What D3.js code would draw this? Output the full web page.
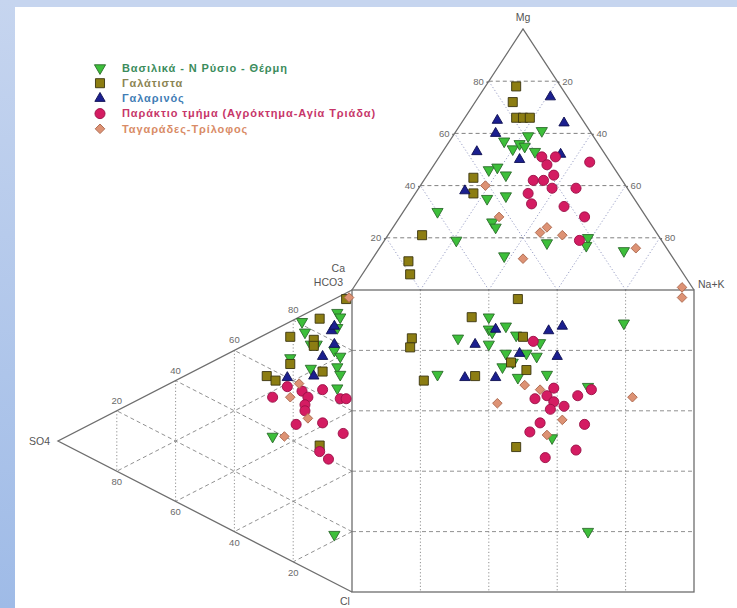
<!DOCTYPE html>
<html>
<head>
<meta charset="utf-8">
<script src="https://cdn.jsdelivr.net/npm/d3@7"></script>
<style>
  html, body { margin: 0; padding: 0; background: #ffffff; }
  svg { display: block; }
  text { font-family: "Liberation Sans", Arial, sans-serif; }
</style>
</head>
<body>
<script>
// Sample groups (legend order)
const groups = [
  "Βασιλικά - Ν Ρύσιο - Θέρμη",
  "Γαλάτιστα",
  "Γαλαρινός",
  "Παράκτιο τμήμα (Αγρόκτημα-Αγία Τριάδα)",
  "Ταγαράδες-Τρίλοφος"
];

// Cation triangle: [group, Mg %, Na+K %]  (Ca = remainder)
const cations = [
  [0,61,25],[0,59,22],[0,57,16],[0,54,20],[0,56,21],[0,55,23],[0,53,27],[0,46,17],[0,47,19],[0,44,23],
  [0,35,22],[0,36,27],[0,30,10],[0,26,28],[0,24,30],[0,19,21],[0,18,48],[0,20,59],[0,17,60],[0,13,38],[0,15,72],
  [1,78,9],[1,72,11],[1,66,15],[1,66,17],[1,66,19],[1,43,14],[1,37,17],[1,21,10],[1,11,11],[1,6,14],
  [2,74,21],[2,64,30],[2,65,10],[2,60,12],[2,53,10],[2,50,24],[2,52,35],[2,38,14],
  [3,51,30],[3,48,33],[3,51,34],[3,49,45],[3,44,37],[3,42,32],[3,42,35],[3,39,39],[3,39,46],[3,37,33],
  [3,33,36],[3,32,46],[3,28,54],[3,19,57],
  [4,40,19],[4,28,29],[4,22,44],[4,24,45],[4,21,51],[4,12,44],[4,16,75],[4,1,96]
];

// Anion triangle: [group, SO4 %, Cl %]  (HCO3 = remainder)
const anions = [
  [0,5,5],[0,4,7],[0,17,2],[0,5,10],[0,16,6],[0,14,11],[0,12,12],[0,6,17],[0,4,20],[0,21,12],
  [0,5,23],[0,14,19],[0,4,26],[0,5,30],[0,27,35],[0,6,78],
  [1,2,2],[1,11,4],[1,21,5],[1,13,10],[1,13,12],[1,21,14],[1,10,22],[1,29,14],[1,26,17],[1,11,46],
  [2,7,10],[2,6,9],[2,6,15],[2,10,17],[2,13,22],[2,22,18],
  [3,22,21],[3,27,22],[3,17,25],[3,15,28],[3,10,28],[3,16,30],[3,16,32],[3,4,34],[3,2,35],[3,19,35],
  [3,10,39],[3,3,46],[3,11,48],[3,8,52],
  [4,18,22],[4,21,25],[4,15,35],[4,23,37],[4,1,2]
];

// Central square: [group, cation position %, anion position %]
const combined = [
  [0,40,9],[0,45,12],[0,40,13],[0,41,14],[0,31,16],[0,40,18],[0,48,15],[0,55,17.5],[0,45,21],[0,51,21],
  [0,54,22],[0,44,25.5],[0,47,24],[0,48.5,29],[0,25,28],[0,57,28],[0,79.5,11],[0,69,80],[0,58.5,49],[0,69,32],
  [1,48.5,3],[1,35,9],[1,17.5,16],[1,17,19],[1,50,15.5],[1,46.5,24],[1,51,26.5],[1,21,30],[1,36,28.5],[1,48,52],
  [2,42,13],[2,36,18],[2,49,21],[2,33,29],[2,42,29],[2,57.5,13.5],[2,61.5,12],[2,60,22],
  [3,53,17],[3,59,32.5],[3,53.5,36],[3,57,35],[3,59,37],[3,58,39.5],[3,62,38.5],[3,66,35],[3,55,44],
  [3,52,47],[3,68,44.5],[3,65.5,53],[3,56.5,55.5],[3,70,33],
  [4,50.5,31.5],[4,55,33],[4,42.5,37.5],[4,61.5,43],[4,57,48],[4,82,35.5],[4,96.5,2.5]
];

// Grid / tick levels
const levels = [20, 40, 60, 80];

// Marker styles per group
const fills   = ["#3dbf3a", "#8c7d12", "#1b1f8f", "#d41c62", "#dd9274"];
const strokes = ["#2b6b2b", "#3a3410", "#0d0f50", "#9a1046", "#ad6a50"];
const textColors = ["#3b8c5c", "#8b8452", "#3f7db5", "#c73669", "#d98b66"];
const shapes = [d3.symbolTriangle, d3.symbolSquare, d3.symbolTriangle, d3.symbolCircle, d3.symbolSquare];
const sizes = [54, 82, 46, 80, 46];
const rotations = [180, 0, 0, 0, 45];

const W = 737, H = 608;
const svg = d3.select("body").append("svg").attr("width", W).attr("height", H);

// Page frame
const defs = svg.append("defs");
const grad = defs.append("linearGradient").attr("id", "sideband").attr("x1", 0).attr("y1", 0).attr("x2", 0).attr("y2", 1);
grad.append("stop").attr("offset", 0).attr("stop-color", "#c6d5ef");
grad.append("stop").attr("offset", 1).attr("stop-color", "#9fbbe7");
svg.append("rect").attr("width", W).attr("height", H).attr("fill", "#ffffff");
svg.append("rect").attr("width", W).attr("height", 7).attr("fill", "#c6d5ef");
svg.append("rect").attr("width", 15).attr("height", H).attr("fill", "url(#sideband)");

// Scales
const xCat = d3.scaleLinear().domain([0, 100]).range([352, 694]);  // horizontal position (Ca -> Na+K)
const yCat = d3.scaleLinear().domain([0, 100]).range([290, 29]);   // Mg
const xAn  = d3.scaleLinear().domain([0, 100]).range([352, 58]);   // SO4
const yDn  = d3.scaleLinear().domain([0, 100]).range([290, 592]);  // HCO3 -> Cl position

const catPos = (mg, nak) => [xCat(nak + mg / 2), yCat(mg)];
const anPos  = (so4, cl) => [xAn(so4), yDn(cl + so4 / 2)];

const line = d3.line();
const gridDash = "4,3";
const gridDot = "1.2,2.2";
const gridCol = "#858585";
const gridBlue = "#8d93be";

const grid = svg.append("g").attr("fill", "none").attr("stroke-width", 0.9);

// Cation triangle grid
levels.forEach(m => {
  grid.append("path").attr("d", line([catPos(m, 0), catPos(m, 100 - m)]))
    .attr("stroke", "#737373").attr("stroke-dasharray", gridDash);
  // constant Na+K
  grid.append("path").attr("d", line([catPos(0, m), catPos(100 - m, m)]))
    .attr("stroke", gridBlue).attr("stroke-dasharray", gridDot);
  // constant Ca
  grid.append("path").attr("d", line([catPos(0, 100 - m), catPos(100 - m, 0)]))
    .attr("stroke", gridBlue).attr("stroke-dasharray", gridDot);
});

// Anion triangle grid
levels.forEach(s => {
  grid.append("path").attr("d", line([anPos(s, 0), anPos(s, 100 - s)]))
    .attr("stroke", gridCol).attr("stroke-dasharray", gridDot);
  grid.append("path").attr("d", line([anPos(0, s), anPos(100 - s, s)]))
    .attr("stroke", gridCol).attr("stroke-dasharray", gridDash);
  grid.append("path").attr("d", line([anPos(0, 100 - s), anPos(100 - s, 0)]))
    .attr("stroke", gridCol).attr("stroke-dasharray", gridDash);
});

// Square grid
levels.forEach(v => {
  grid.append("path").attr("d", line([[xCat(v), yDn(0)], [xCat(v), yDn(100)]]))
    .attr("stroke", gridCol).attr("stroke-dasharray", gridDot);
  grid.append("path").attr("d", line([[xCat(0), yDn(v)], [xCat(100), yDn(v)]]))
    .attr("stroke", gridCol).attr("stroke-dasharray", gridDash);
});

// Outlines
const frame = svg.append("g").attr("fill", "none").attr("stroke", "#6e6e6e").attr("stroke-width", 1.3);
frame.append("path").attr("d", line([catPos(0, 0), catPos(100, 0), catPos(0, 100)]));
frame.append("path").attr("d", line([anPos(0, 0), anPos(100, 0), anPos(0, 100)]));
frame.append("rect").attr("x", xCat(0)).attr("y", yDn(0))
  .attr("width", xCat(100) - xCat(0)).attr("height", yDn(100) - yDn(0));

// Tick labels with small tick dots on the triangle edges
const ticks = svg.append("g").attr("font-size", 9.5).attr("fill", "#6a6a6a");
levels.forEach(m => {
  const [lx, ly] = catPos(m, 0);
  ticks.append("text").attr("x", lx - 5).attr("y", ly).attr("dy", "0.35em")
    .attr("text-anchor", "end").text(m);
  ticks.append("circle").attr("cx", lx - 1.5).attr("cy", ly + 1).attr("r", 0.9);
  const [rx, ry] = catPos(m, 100 - m);
  ticks.append("text").attr("x", rx + 5).attr("y", ry).attr("dy", "0.35em")
    .attr("text-anchor", "start").text(100 - m);
  ticks.append("circle").attr("cx", rx + 1.5).attr("cy", ry + 1).attr("r", 0.9);
  const [ux, uy] = anPos(m, 0);
  ticks.append("text").attr("x", ux).attr("y", uy - 7)
    .attr("text-anchor", "middle").text(100 - m);
  const [bx, by] = anPos(m, 100 - m);
  ticks.append("text").attr("x", bx).attr("y", by + 14)
    .attr("text-anchor", "middle").text(m);
});

// Corner labels
const corners = svg.append("g").attr("font-size", 10.5).attr("fill", "#555");
corners.append("text").attr("x", catPos(100, 0)[0]).attr("y", 21).attr("text-anchor", "middle").text("Mg");
corners.append("text").attr("x", 345).attr("y", 272).attr("text-anchor", "end").text("Ca");
corners.append("text").attr("x", 343).attr("y", 286).attr("text-anchor", "end").text("HCO3");
corners.append("text").attr("x", 698).attr("y", 288).attr("text-anchor", "start").text("Na+K");
corners.append("text").attr("x", 50).attr("y", 445).attr("text-anchor", "end").text("SO4");
corners.append("text").attr("x", 345).attr("y", 605).attr("text-anchor", "middle").text("Cl");

// Sample markers
const sym = g => d3.symbol().type(shapes[g]).size(sizes[g])();
function plot(rows, pos) {
  const layer = svg.append("g");
  layer.selectAll("path").data(rows).join("path")
    .attr("d", d => sym(d[0]))
    .attr("transform", d => {
      const [x, y] = pos(d[1], d[2]);
      return `translate(${x},${y}) rotate(${rotations[d[0]]})`;
    })
    .attr("fill", d => fills[d[0]])
    .attr("stroke", d => strokes[d[0]])
    .attr("stroke-width", 0.9);
}
plot(cations, catPos);
plot(anions, anPos);
plot(combined, (a, b) => [xCat(a), yDn(b)]);

// Legend
const legend = svg.append("g");
groups.forEach((name, i) => {
  const y = 68 + i * 15.2;
  legend.append("path").attr("d", sym(i))
    .attr("transform", `translate(100,${y}) rotate(${rotations[i]})`)
    .attr("fill", fills[i]).attr("stroke", strokes[i]).attr("stroke-width", 0.9);
  legend.append("text").attr("x", 122).attr("y", y).attr("dy", "0.35em")
    .attr("font-size", 11).attr("font-weight", "bold").attr("letter-spacing", 0.9)
    .attr("fill", textColors[i]).text(name);
});
</script>
</body>
</html>
